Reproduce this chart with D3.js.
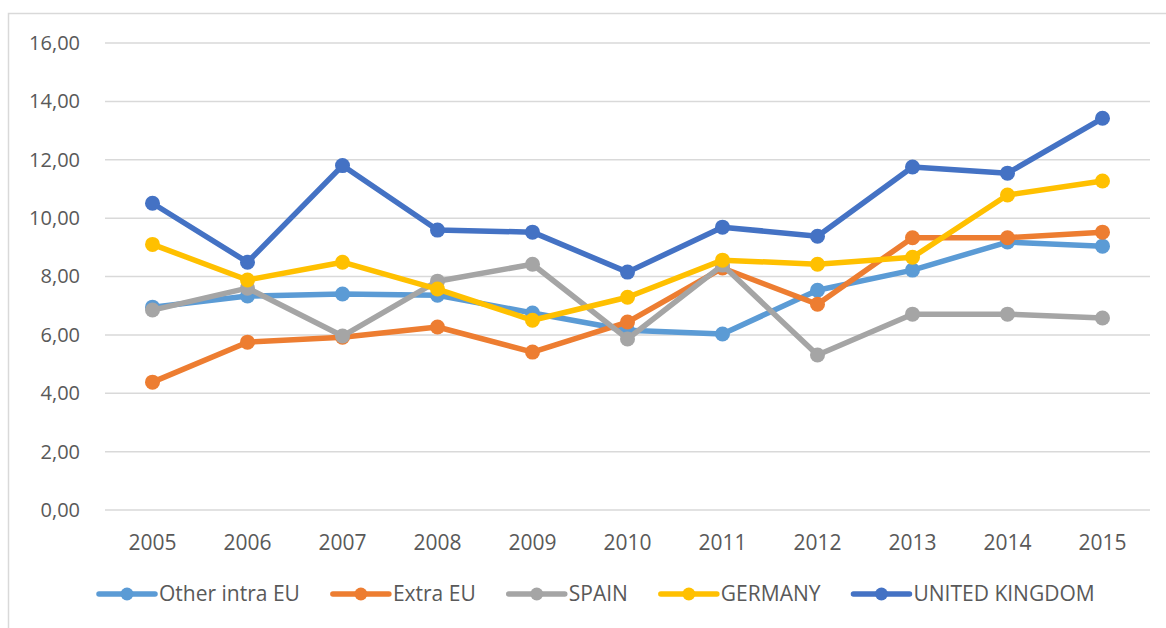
<!DOCTYPE html>
<html>
<head>
<meta charset="utf-8">
<script src="https://cdn.jsdelivr.net/npm/d3@7"></script>
<style>
  body { margin: 0; background: #fff; }
  svg text { font-family: "Open Sans", "Noto Sans", sans-serif; fill: #595959; }
</style>
</head>
<body>
<div id="chart"></div>
<script>
// data
var years = ["2005", "2006", "2007", "2008", "2009", "2010", "2011", "2012", "2013", "2014", "2015"];
var seriesNames = ["Other intra EU", "Extra EU", "SPAIN", "GERMANY", "UNITED KINGDOM"];
var otherIntraEU = [6.95, 7.33, 7.40, 7.36, 6.75, 6.16, 6.03, 7.53, 8.22, 9.18, 9.04];
var extraEU = [4.38, 5.75, 5.92, 6.27, 5.41, 6.44, 8.29, 7.05, 9.33, 9.33, 9.52];
var spain = [6.85, 7.60, 5.96, 7.84, 8.42, 5.86, 8.39, 5.31, 6.71, 6.71, 6.58];
var germany = [9.10, 7.88, 8.49, 7.57, 6.50, 7.29, 8.56, 8.42, 8.66, 10.79, 11.27];
var unitedKingdom = [10.51, 8.49, 11.80, 9.59, 9.52, 8.15, 9.69, 9.38, 11.75, 11.54, 13.42];
var yTicks = [0, 2, 4, 6, 8, 10, 12, 14, 16];

var colors = ["#5b9bd5", "#ed7d31", "#a5a5a5", "#ffc000", "#4472c4"];
var allSeries = [otherIntraEU, extraEU, spain, germany, unitedKingdom];

// svg container
var width = 1166;
var height = 628;
var margin = { top: 43, right: 16, bottom: 118, left: 105 };
var chartWidth = width - margin.left - margin.right;
var chartHeight = height - margin.top - margin.bottom;

var svg = d3.select("#chart").append("svg")
    .attr("width", width)
    .attr("height", height);

// chart frame
svg.append("rect")
    .attr("x", 8.5).attr("y", 13.5)
    .attr("width", 1170).attr("height", 640)
    .attr("fill", "none")
    .attr("stroke", "#d9d9d9")
    .attr("stroke-width", 1.5);

var chartGroup = svg.append("g")
    .attr("transform", `translate(${margin.left}, ${margin.top})`);

// scales
var xScale = d3.scaleBand()
    .domain(years)
    .range([0, chartWidth]);

var yScale = d3.scaleLinear()
    .domain([0, 16])
    .range([chartHeight, 0]);

// gridlines
chartGroup.append("g")
    .selectAll("line")
    .data(yTicks)
    .enter()
    .append("line")
    .attr("x1", 0)
    .attr("x2", chartWidth)
    .attr("y1", d => yScale(d))
    .attr("y2", d => yScale(d))
    .attr("stroke", "#d9d9d9")
    .attr("stroke-width", 1.5);

// y axis
var yAxis = d3.axisLeft(yScale)
    .tickValues(yTicks)
    .tickSize(0)
    .tickPadding(25)
    .tickFormat(d => d3.format(".2f")(d).replace(".", ","));

chartGroup.append("g")
    .call(yAxis)
    .call(g => g.select(".domain").remove())
    .selectAll("text")
    .attr("font-size", "20px")
    .attr("fill", "#595959");

// x axis
var xAxis = d3.axisBottom(xScale)
    .tickSize(0)
    .tickPadding(25);

chartGroup.append("g")
    .attr("transform", `translate(0, ${chartHeight})`)
    .call(xAxis)
    .call(g => g.select(".domain").remove())
    .selectAll("text")
    .attr("font-size", "21px")
    .attr("fill", "#595959");

// lines
var line = d3.line()
    .x((d, i) => xScale(years[i]) + xScale.bandwidth() / 2)
    .y(d => yScale(d));

allSeries.forEach(function (values, s) {
    chartGroup.append("path")
        .datum(values)
        .attr("d", line)
        .attr("fill", "none")
        .attr("stroke", colors[s])
        .attr("stroke-width", 5.5)
        .attr("stroke-linejoin", "round");

    chartGroup.selectAll(".dot" + s)
        .data(values)
        .enter()
        .append("circle")
        .attr("cx", (d, i) => xScale(years[i]) + xScale.bandwidth() / 2)
        .attr("cy", d => yScale(d))
        .attr("r", 7.5)
        .attr("fill", colors[s]);
});

// legend
var legend = svg.append("g")
    .attr("transform", "translate(98, 594)");

var lx = 0;
seriesNames.forEach(function (name, s) {
    var item = legend.append("g").attr("transform", `translate(${lx}, 0)`);
    item.append("line")
        .attr("x1", 1).attr("x2", 57)
        .attr("y1", 0).attr("y2", 0)
        .attr("stroke", colors[s])
        .attr("stroke-width", 5.5)
        .attr("stroke-linecap", "round");
    item.append("circle")
        .attr("cx", 29).attr("cy", 0).attr("r", 6.5)
        .attr("fill", colors[s]);
    var t = item.append("text")
        .attr("x", 61)
        .attr("dy", "0.35em")
        .attr("font-size", "21px")
        .text(name);
    lx += 61 + t.node().getComputedTextLength() + 32;
});
</script>
</body>
</html>
